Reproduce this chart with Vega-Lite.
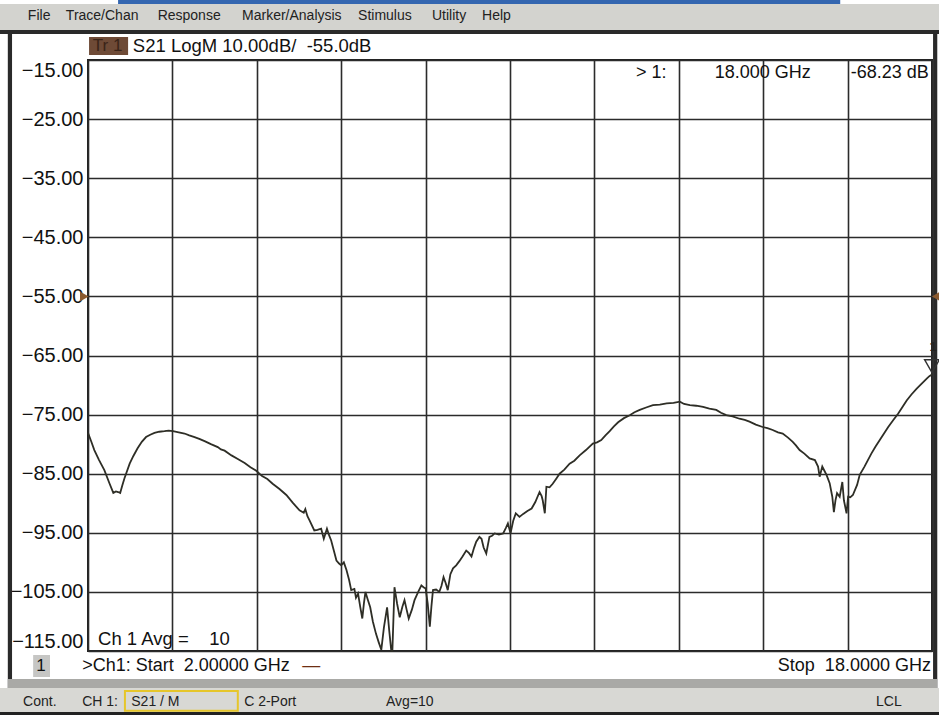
{
  "$schema": "https://vega.github.io/schema/vega-lite/v6.json",
  "width": 844,
  "height": 591,
  "autosize": "none",
  "padding": {"left": 88, "top": 60, "right": 7, "bottom": 64},
  "background": "#ffffff",
  "config": {
    "font": "Liberation Sans",
    "view": {"stroke": "#222222", "strokeWidth": 2, "fill": "#ffffff"},
    "axisX": {"labels": false, "ticks": false, "domain": false, "grid": true, "gridColor": "#2b2b2b", "gridWidth": 1.6, "gridOpacity": 1, "title": null},
    "axisY": {"format": ".2f", "labelFlush": true, "labelOverlap": false, "labelFont": "Liberation Sans", "labelFontSize": 20, "labelColor": "#111111", "labelPadding": 5, "ticks": false, "domain": false, "grid": true, "gridColor": "#2b2b2b", "gridWidth": 1.6, "gridOpacity": 1, "title": null}
  },
  "layer": [
    {
      "data": {"values": [
        {"freq":2.00,"db":-78.1},{"freq":2.06,"db":-79.5},{"freq":2.12,"db":-81.0},{"freq":2.21,"db":-82.7},{"freq":2.31,"db":-84.4},
        {"freq":2.41,"db":-86.7},{"freq":2.48,"db":-88.25},{"freq":2.53,"db":-88.0},{"freq":2.57,"db":-88.1},{"freq":2.61,"db":-88.25},
        {"freq":2.65,"db":-87.0},{"freq":2.69,"db":-85.8},{"freq":2.79,"db":-83.3},{"freq":2.86,"db":-82.0},{"freq":2.94,"db":-80.7},
        {"freq":3.02,"db":-79.6},{"freq":3.10,"db":-78.8},{"freq":3.18,"db":-78.4},{"freq":3.26,"db":-78.1},{"freq":3.35,"db":-77.9},
        {"freq":3.45,"db":-77.8},{"freq":3.53,"db":-77.7},{"freq":3.61,"db":-77.8},{"freq":3.72,"db":-78.0},{"freq":3.83,"db":-78.2},
        {"freq":3.92,"db":-78.5},{"freq":4.02,"db":-78.8},{"freq":4.11,"db":-79.1},{"freq":4.21,"db":-79.5},{"freq":4.33,"db":-80.0},
        {"freq":4.46,"db":-80.5},{"freq":4.52,"db":-80.9},{"freq":4.59,"db":-81.1},{"freq":4.72,"db":-81.9},{"freq":4.84,"db":-82.5},
        {"freq":4.97,"db":-83.2},{"freq":5.08,"db":-83.9},{"freq":5.19,"db":-84.5},{"freq":5.30,"db":-85.4},{"freq":5.40,"db":-85.9},
        {"freq":5.50,"db":-86.7},{"freq":5.63,"db":-87.6},{"freq":5.76,"db":-88.6},{"freq":5.88,"db":-89.9},{"freq":6.01,"db":-91.2},
        {"freq":6.09,"db":-91.6},{"freq":6.12,"db":-91.0},{"freq":6.16,"db":-92.2},{"freq":6.20,"db":-92.9},{"freq":6.29,"db":-94.6},
        {"freq":6.35,"db":-94.5},{"freq":6.42,"db":-94.3},{"freq":6.47,"db":-96.0},{"freq":6.53,"db":-94.3},{"freq":6.57,"db":-95.4},
        {"freq":6.61,"db":-96.3},{"freq":6.66,"db":-98.0},{"freq":6.71,"db":-99.7},{"freq":6.76,"db":-100.2},{"freq":6.80,"db":-100.5},
        {"freq":6.85,"db":-100.0},{"freq":6.90,"db":-101.3},{"freq":6.95,"db":-103.0},{"freq":6.99,"db":-104.7},{"freq":7.05,"db":-104.5},
        {"freq":7.08,"db":-106.0},{"freq":7.12,"db":-105.3},{"freq":7.16,"db":-107.5},{"freq":7.20,"db":-109.5},{"freq":7.23,"db":-107.0},
        {"freq":7.26,"db":-105.0},{"freq":7.30,"db":-106.2},{"freq":7.35,"db":-107.6},{"freq":7.40,"db":-110.0},{"freq":7.46,"db":-112.1},
        {"freq":7.51,"db":-113.5},{"freq":7.56,"db":-114.8},{"freq":7.61,"db":-111.0},{"freq":7.67,"db":-107.6},{"freq":7.71,"db":-111.5},
        {"freq":7.75,"db":-115.0},{"freq":7.77,"db":-115.0},{"freq":7.81,"db":-104.2},{"freq":7.86,"db":-107.0},{"freq":7.91,"db":-109.3},
        {"freq":7.96,"db":-107.5},{"freq":8.00,"db":-106.4},{"freq":8.04,"db":-108.0},{"freq":8.08,"db":-109.5},{"freq":8.14,"db":-108.0},
        {"freq":8.19,"db":-106.4},{"freq":8.26,"db":-105.0},{"freq":8.32,"db":-103.9},{"freq":8.36,"db":-104.2},{"freq":8.40,"db":-104.4},
        {"freq":8.44,"db":-107.0},{"freq":8.48,"db":-110.9},{"freq":8.51,"db":-107.5},{"freq":8.54,"db":-104.7},{"freq":8.60,"db":-104.6},
        {"freq":8.66,"db":-105.0},{"freq":8.70,"db":-104.0},{"freq":8.74,"db":-102.5},{"freq":8.78,"db":-103.5},{"freq":8.82,"db":-104.7},
        {"freq":8.87,"db":-102.0},{"freq":8.92,"db":-101.0},{"freq":8.98,"db":-100.5},{"freq":9.04,"db":-99.8},{"freq":9.10,"db":-99.0},
        {"freq":9.17,"db":-98.0},{"freq":9.22,"db":-98.4},{"freq":9.27,"db":-99.0},{"freq":9.32,"db":-97.5},{"freq":9.36,"db":-96.5},
        {"freq":9.42,"db":-95.7},{"freq":9.46,"db":-96.0},{"freq":9.50,"db":-97.5},{"freq":9.55,"db":-98.5},{"freq":9.61,"db":-95.7},
        {"freq":9.66,"db":-95.5},{"freq":9.71,"db":-95.1},{"freq":9.79,"db":-95.3},{"freq":9.87,"db":-95.1},{"freq":9.92,"db":-94.2},
        {"freq":9.96,"db":-93.4},{"freq":10.01,"db":-95.1},{"freq":10.06,"db":-93.0},{"freq":10.11,"db":-91.7},{"freq":10.18,"db":-92.3},
        {"freq":10.25,"db":-91.8},{"freq":10.33,"db":-91.3},{"freq":10.41,"db":-90.9},{"freq":10.48,"db":-89.8},{"freq":10.56,"db":-88.1},
        {"freq":10.60,"db":-88.8},{"freq":10.62,"db":-89.5},{"freq":10.66,"db":-91.7},{"freq":10.69,"db":-87.2},{"freq":10.75,"db":-87.3},
        {"freq":10.81,"db":-86.7},{"freq":10.88,"db":-85.8},{"freq":10.94,"db":-85.0},{"freq":11.03,"db":-84.3},{"freq":11.13,"db":-83.3},
        {"freq":11.22,"db":-82.8},{"freq":11.32,"db":-81.9},{"freq":11.44,"db":-81.0},{"freq":11.57,"db":-79.9},{"freq":11.65,"db":-79.7},
        {"freq":11.73,"db":-79.3},{"freq":11.81,"db":-78.5},{"freq":11.89,"db":-77.8},{"freq":11.97,"db":-77.0},{"freq":12.05,"db":-76.3},
        {"freq":12.16,"db":-75.6},{"freq":12.27,"db":-75.1},{"freq":12.36,"db":-74.6},{"freq":12.46,"db":-74.2},{"freq":12.58,"db":-73.8},
        {"freq":12.71,"db":-73.4},{"freq":12.84,"db":-73.3},{"freq":12.97,"db":-73.1},{"freq":13.10,"db":-73.0},{"freq":13.22,"db":-72.8},
        {"freq":13.30,"db":-73.2},{"freq":13.41,"db":-73.4},{"freq":13.53,"db":-73.5},{"freq":13.66,"db":-73.7},{"freq":13.78,"db":-74.0},
        {"freq":13.91,"db":-74.2},{"freq":14.00,"db":-74.7},{"freq":14.10,"db":-75.1},{"freq":14.22,"db":-75.3},{"freq":14.35,"db":-75.7},
        {"freq":14.45,"db":-75.9},{"freq":14.54,"db":-76.2},{"freq":14.66,"db":-76.7},{"freq":14.79,"db":-77.1},{"freq":14.88,"db":-77.3},
        {"freq":14.98,"db":-77.6},{"freq":15.08,"db":-78.0},{"freq":15.17,"db":-78.2},{"freq":15.27,"db":-78.9},{"freq":15.36,"db":-79.6},
        {"freq":15.42,"db":-80.2},{"freq":15.49,"db":-81.0},{"freq":15.58,"db":-81.6},{"freq":15.68,"db":-82.4},{"freq":15.78,"db":-82.7},
        {"freq":15.84,"db":-83.8},{"freq":15.87,"db":-85.5},{"freq":15.92,"db":-83.8},{"freq":15.96,"db":-84.5},{"freq":16.00,"db":-85.2},
        {"freq":16.06,"db":-86.6},{"freq":16.11,"db":-88.9},{"freq":16.14,"db":-91.5},{"freq":16.17,"db":-89.5},{"freq":16.20,"db":-88.3},
        {"freq":16.25,"db":-88.9},{"freq":16.30,"db":-86.4},{"freq":16.33,"db":-89.5},{"freq":16.38,"db":-91.7},{"freq":16.41,"db":-88.9},
        {"freq":16.45,"db":-89.0},{"freq":16.50,"db":-88.6},{"freq":16.58,"db":-86.9},{"freq":16.63,"db":-85.2},{"freq":16.72,"db":-83.8},
        {"freq":16.78,"db":-82.8},{"freq":16.85,"db":-81.6},{"freq":16.93,"db":-80.4},{"freq":17.01,"db":-79.3},{"freq":17.09,"db":-78.2},
        {"freq":17.17,"db":-77.1},{"freq":17.26,"db":-76.0},{"freq":17.36,"db":-74.8},{"freq":17.44,"db":-73.7},{"freq":17.52,"db":-72.6},
        {"freq":17.61,"db":-71.6},{"freq":17.71,"db":-70.6},{"freq":17.80,"db":-69.8},{"freq":17.90,"db":-68.9},{"freq":17.95,"db":-68.5},
        {"freq":18.00,"db":-68.23}
      ]},
      "mark": {"type": "line", "color": "#2e2e26", "strokeWidth": 1.8},
      "encoding": {
        "x": {"field": "freq", "type": "quantitative", "scale": {"domain": [2, 18], "nice": false, "zero": false},
          "axis": {"values": [2, 3.6, 5.2, 6.8, 8.4, 10, 11.6, 13.2, 14.8, 16.4, 18], "labels": false, "ticks": false, "domain": false, "grid": true, "title": null}},
        "y": {"field": "db", "type": "quantitative", "scale": {"domain": [-115, -15], "nice": false, "zero": false},
          "axis": {"values": [-15, -25, -35, -45, -55, -65, -75, -85, -95, -105, -115], "format": ".2f", "labelFlush": true, "ticks": false, "domain": false, "grid": true, "title": null}}
      }
    },
    {
      "data": {"values": [{}]},
      "mark": {"type": "rect", "color": "#d3d3cf"},
      "encoding": {"x": {"datum": 0.2, "type": "quantitative"}, "x2": {"datum": 18.3}, "y": {"datum": -5.52, "type": "quantitative"}, "y2": {"datum": -10.0}}
    },
    {
      "data": {"values": [{}]},
      "mark": {"type": "rect", "color": "#3466b0"},
      "encoding": {"x": {"datum": 2.57, "type": "quantitative"}, "x2": {"datum": 16.26}, "y": {"datum": -4.8, "type": "quantitative"}, "y2": {"datum": -5.52}}
    },
    {
      "data": {"values": [{}]},
      "mark": {"type": "rect", "color": "#2a2a2a"},
      "encoding": {"x": {"datum": 0.2, "type": "quantitative"}, "x2": {"datum": 18.3}, "y": {"datum": -9.92, "type": "quantitative"}, "y2": {"datum": -10.6}}
    },
    {
      "data": {"values": [{}]},
      "mark": {"type": "rect", "color": "#2a2a2a"},
      "encoding": {"x": {"datum": 0.48, "type": "quantitative"}, "x2": {"datum": 0.56}, "y": {"datum": -9.92, "type": "quantitative"}, "y2": {"datum": -121.3}}
    },
    {
      "data": {"values": [{}]},
      "mark": {"type": "rect", "color": "#2a2a2a"},
      "encoding": {"x": {"datum": 18.02, "type": "quantitative"}, "x2": {"datum": 18.1}, "y": {"datum": -9.92, "type": "quantitative"}, "y2": {"datum": -121.3}}
    },
    {
      "data": {"values": [{}]},
      "mark": {"type": "rect", "color": "#a9a9a6"},
      "encoding": {"x": {"datum": 0.48, "type": "quantitative"}, "x2": {"datum": 18.1}, "y": {"datum": -119.74, "type": "quantitative"}, "y2": {"datum": -121.26}}
    },
    {
      "data": {"values": [{}]},
      "mark": {"type": "rect", "color": "#d8d8d4"},
      "encoding": {"x": {"datum": 0.2, "type": "quantitative"}, "x2": {"datum": 18.3}, "y": {"datum": -121.26, "type": "quantitative"}, "y2": {"datum": -125.32}}
    },
    {
      "data": {"values": [{}]},
      "mark": {"type": "rect", "color": "#222222"},
      "encoding": {"x": {"datum": 0.2, "type": "quantitative"}, "x2": {"datum": 18.3}, "y": {"datum": -125.32, "type": "quantitative"}, "y2": {"datum": -126.2}}
    },
    {
      "data": {"values": [{}]},
      "mark": {"type": "rect", "fill": "#d8d8d4", "stroke": "#e6c62a", "strokeWidth": 2},
      "encoding": {"x": {"datum": 2.70, "type": "quantitative"}, "x2": {"datum": 4.84}, "y": {"datum": -121.77, "type": "quantitative"}, "y2": {"datum": -125.1}}
    },
    {
      "data": {"values": [{}]},
      "mark": {"type": "rect", "color": "#6e4a36"},
      "encoding": {"x": {"datum": 2.02, "type": "quantitative"}, "x2": {"datum": 2.76}, "y": {"datum": -11.11, "type": "quantitative"}, "y2": {"datum": -14.15}}
    },
    {
      "data": {"values": [{}]},
      "mark": {"type": "rect", "color": "#c6c6c4"},
      "encoding": {"x": {"datum": 0.96, "type": "quantitative"}, "x2": {"datum": 1.28}, "y": {"datum": -115.68, "type": "quantitative"}, "y2": {"datum": -119.4}}
    },
    {
      "data": {"values": [{}]},
      "mark": {"type": "text", "text": "File", "align": "left", "baseline": "middle", "fontSize": 14, "color": "#222222"},
      "encoding": {"x": {"datum": 0.86, "type": "quantitative"}, "y": {"datum": -7.55, "type": "quantitative"}}
    },
    {
      "data": {"values": [{}]},
      "mark": {"type": "text", "text": "Trace/Chan", "align": "left", "baseline": "middle", "fontSize": 14, "color": "#222222"},
      "encoding": {"x": {"datum": 1.58, "type": "quantitative"}, "y": {"datum": -7.55, "type": "quantitative"}}
    },
    {
      "data": {"values": [{}]},
      "mark": {"type": "text", "text": "Response", "align": "left", "baseline": "middle", "fontSize": 14, "color": "#222222"},
      "encoding": {"x": {"datum": 3.32, "type": "quantitative"}, "y": {"datum": -7.55, "type": "quantitative"}}
    },
    {
      "data": {"values": [{}]},
      "mark": {"type": "text", "text": "Marker/Analysis", "align": "left", "baseline": "middle", "fontSize": 14, "color": "#222222"},
      "encoding": {"x": {"datum": 4.92, "type": "quantitative"}, "y": {"datum": -7.55, "type": "quantitative"}}
    },
    {
      "data": {"values": [{}]},
      "mark": {"type": "text", "text": "Stimulus", "align": "left", "baseline": "middle", "fontSize": 14, "color": "#222222"},
      "encoding": {"x": {"datum": 7.12, "type": "quantitative"}, "y": {"datum": -7.55, "type": "quantitative"}}
    },
    {
      "data": {"values": [{}]},
      "mark": {"type": "text", "text": "Utility", "align": "left", "baseline": "middle", "fontSize": 14, "color": "#222222"},
      "encoding": {"x": {"datum": 8.52, "type": "quantitative"}, "y": {"datum": -7.55, "type": "quantitative"}}
    },
    {
      "data": {"values": [{}]},
      "mark": {"type": "text", "text": "Help", "align": "left", "baseline": "middle", "fontSize": 14, "color": "#222222"},
      "encoding": {"x": {"datum": 9.47, "type": "quantitative"}, "y": {"datum": -7.55, "type": "quantitative"}}
    },
    {
      "data": {"values": [{}]},
      "mark": {"type": "text", "text": "Tr 1", "align": "left", "baseline": "middle", "fontSize": 17, "color": "#3a2418"},
      "encoding": {"x": {"datum": 2.09, "type": "quantitative"}, "y": {"datum": -12.63, "type": "quantitative"}}
    },
    {
      "data": {"values": [{}]},
      "mark": {"type": "text", "text": "S21 LogM 10.00dB/\u00a0 -55.0dB", "align": "left", "baseline": "middle", "fontSize": 18.5, "color": "#111111"},
      "encoding": {"x": {"datum": 2.85, "type": "quantitative"}, "y": {"datum": -12.63, "type": "quantitative"}}
    },
    {
      "data": {"values": [{}]},
      "mark": {"type": "text", "text": "> 1:", "align": "left", "baseline": "middle", "fontSize": 18, "color": "#111111"},
      "encoding": {"x": {"datum": 12.39, "type": "quantitative"}, "y": {"datum": -17.2, "type": "quantitative"}}
    },
    {
      "data": {"values": [{}]},
      "mark": {"type": "text", "text": "18.000 GHz", "align": "left", "baseline": "middle", "fontSize": 18, "color": "#111111"},
      "encoding": {"x": {"datum": 13.88, "type": "quantitative"}, "y": {"datum": -17.2, "type": "quantitative"}}
    },
    {
      "data": {"values": [{}]},
      "mark": {"type": "text", "text": "-68.23 dB", "align": "left", "baseline": "middle", "fontSize": 18, "color": "#111111"},
      "encoding": {"x": {"datum": 16.46, "type": "quantitative"}, "y": {"datum": -17.2, "type": "quantitative"}}
    },
    {
      "data": {"values": [{}]},
      "mark": {"type": "text", "text": "Ch 1 Avg =\u00a0\u00a0\u00a0 10", "align": "left", "baseline": "middle", "fontSize": 18.5, "color": "#111111"},
      "encoding": {"x": {"datum": 2.19, "type": "quantitative"}, "y": {"datum": -112.97, "type": "quantitative"}}
    },
    {
      "data": {"values": [{}]},
      "mark": {"type": "text", "text": "1", "align": "center", "baseline": "middle", "fontSize": 17, "color": "#111111"},
      "encoding": {"x": {"datum": 1.11, "type": "quantitative"}, "y": {"datum": -117.54, "type": "quantitative"}}
    },
    {
      "data": {"values": [{}]},
      "mark": {"type": "text", "text": ">Ch1: Start\u00a0 2.00000 GHz", "align": "left", "baseline": "middle", "fontSize": 18, "color": "#111111"},
      "encoding": {"x": {"datum": 1.89, "type": "quantitative"}, "y": {"datum": -117.54, "type": "quantitative"}}
    },
    {
      "data": {"values": [{}]},
      "mark": {"type": "text", "text": "—", "align": "left", "baseline": "middle", "fontSize": 18, "color": "#6e2e12"},
      "encoding": {"x": {"datum": 6.06, "type": "quantitative"}, "y": {"datum": -117.54, "type": "quantitative"}}
    },
    {
      "data": {"values": [{}]},
      "mark": {"type": "text", "text": "Stop\u00a0 18.0000 GHz", "align": "right", "baseline": "middle", "fontSize": 18, "color": "#111111"},
      "encoding": {"x": {"datum": 17.98, "type": "quantitative"}, "y": {"datum": -117.54, "type": "quantitative"}}
    },
    {
      "data": {"values": [{}]},
      "mark": {"type": "text", "text": "Cont.", "align": "left", "baseline": "middle", "fontSize": 14, "color": "#222222"},
      "encoding": {"x": {"datum": 0.77, "type": "quantitative"}, "y": {"datum": -123.63, "type": "quantitative"}}
    },
    {
      "data": {"values": [{}]},
      "mark": {"type": "text", "text": "CH 1:", "align": "left", "baseline": "middle", "fontSize": 14, "color": "#222222"},
      "encoding": {"x": {"datum": 1.89, "type": "quantitative"}, "y": {"datum": -123.63, "type": "quantitative"}}
    },
    {
      "data": {"values": [{}]},
      "mark": {"type": "text", "text": "S21 / M", "align": "left", "baseline": "middle", "fontSize": 14, "color": "#222222"},
      "encoding": {"x": {"datum": 2.82, "type": "quantitative"}, "y": {"datum": -123.63, "type": "quantitative"}}
    },
    {
      "data": {"values": [{}]},
      "mark": {"type": "text", "text": "C 2-Port", "align": "left", "baseline": "middle", "fontSize": 14, "color": "#222222"},
      "encoding": {"x": {"datum": 4.96, "type": "quantitative"}, "y": {"datum": -123.63, "type": "quantitative"}}
    },
    {
      "data": {"values": [{}]},
      "mark": {"type": "text", "text": "Avg=10", "align": "left", "baseline": "middle", "fontSize": 14, "color": "#222222"},
      "encoding": {"x": {"datum": 7.65, "type": "quantitative"}, "y": {"datum": -123.63, "type": "quantitative"}}
    },
    {
      "data": {"values": [{}]},
      "mark": {"type": "text", "text": "LCL", "align": "left", "baseline": "middle", "fontSize": 14, "color": "#222222"},
      "encoding": {"x": {"datum": 16.94, "type": "quantitative"}, "y": {"datum": -123.63, "type": "quantitative"}}
    },
    {
      "data": {"values": [{}]},
      "mark": {"type": "point", "shape": "triangle-right", "filled": true, "color": "#8a5a30", "size": 100, "opacity": 1},
      "encoding": {"x": {"datum": 1.93, "type": "quantitative"}, "y": {"datum": -55, "type": "quantitative"}}
    },
    {
      "data": {"values": [{}]},
      "mark": {"type": "point", "shape": "triangle-left", "filled": true, "color": "#8a5a30", "size": 100, "opacity": 1},
      "encoding": {"x": {"datum": 18.08, "type": "quantitative"}, "y": {"datum": -55, "type": "quantitative"}}
    },
    {
      "data": {"values": [{}]},
      "mark": {"type": "point", "shape": "triangle-down", "filled": false, "stroke": "#333333", "strokeWidth": 1.4, "size": 220, "opacity": 1},
      "encoding": {"x": {"datum": 18, "type": "quantitative"}, "y": {"datum": -66.8, "type": "quantitative"}}
    },
    {
      "data": {"values": [{}]},
      "mark": {"type": "text", "text": "1", "align": "center", "baseline": "middle", "fontSize": 13, "fontWeight": "bold", "color": "#222222"},
      "encoding": {"x": {"datum": 18.02, "type": "quantitative"}, "y": {"datum": -63.6, "type": "quantitative"}}
    }
  ]
}
